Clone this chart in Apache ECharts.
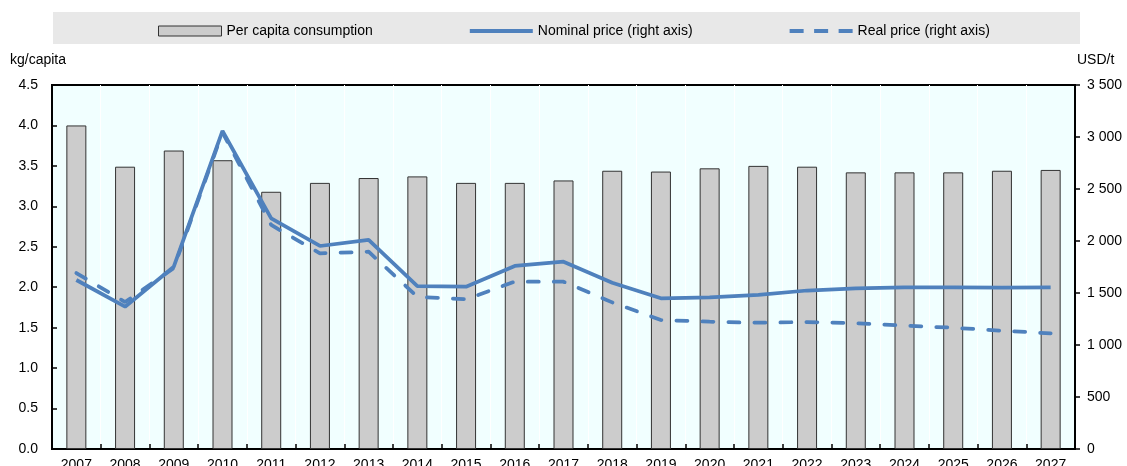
<!DOCTYPE html>
<html>
<head>
<meta charset="utf-8">
<script src="https://cdn.jsdelivr.net/npm/echarts@6/dist/echarts.min.js"></script>
<style>
html,body{margin:0;padding:0;background:#fff;}
#chart{width:1127px;height:466px;}
</style>
</head>
<body>
<div id="chart"></div>
<script>
const years = ['2007','2008','2009','2010','2011','2012','2013','2014','2015','2016','2017','2018','2019','2020','2021','2022','2023','2024','2025','2026','2027'];
const consumption = [4.00,3.49,3.69,3.57,3.18,3.29,3.35,3.37,3.29,3.29,3.32,3.44,3.43,3.47,3.50,3.49,3.42,3.42,3.42,3.44,3.45];
const nominalPrice = [1625,1368,1753,3058,2218,1952,2010,1567,1561,1760,1801,1599,1449,1459,1481,1524,1545,1555,1555,1551,1555];
const realPrice = [1692,1413,1740,3045,2154,1882,1897,1464,1439,1609,1609,1410,1240,1224,1214,1221,1209,1186,1166,1137,1112];
const leftTicks = {min:0, max:4.5, interval:0.5};
const rightTicks = {min:0, max:3500, interval:500};

const FONT = "'Liberation Sans', Arial, sans-serif";
const BLUE = '#4F81BD';
const chart = echarts.init(document.getElementById('chart'), null, {renderer:'canvas'});
function fmtThousands(v){
  const s = String(Math.round(v));
  return s.replace(/\B(?=(\d{3})+(?!\d))/g, ' ');
}
chart.setOption({
  animation:false,
  textStyle:{fontFamily:FONT, color:'#000'},
  graphic:[
    {type:'rect', left:53, top:12, shape:{width:1027, height:32}, style:{fill:'#E8E8E8'}, z:-10},
    {type:'text', left:10, top:53, style:{text:'kg/capita', font:'14px '+FONT, fill:'#000'}},
    {type:'text', left:1077, top:53, style:{text:'USD/t', font:'14px '+FONT, fill:'#000'}}
  ],
  legend:{
    left:153, top:19, itemWidth:63, itemHeight:10, itemGap:97, symbolKeepAspect:true,
    textStyle:{fontFamily:FONT, fontSize:14, color:'#000'},
    data:[
      {name:'Per capita consumption', icon:'rect', itemStyle:{color:'#CCCCCC', borderColor:'#333', borderWidth:1}},
      {name:'Nominal price (right axis)', icon:'path://M0,0H63V4H0Z', itemStyle:{color:BLUE, borderWidth:0}},
      {name:'Real price (right axis)', icon:'path://M0,0H14V4H0Z M24.5,0H38.5V4H24.5Z M49,0H63V4H49Z', itemStyle:{color:BLUE, borderWidth:0}}
    ]
  },
  grid:{left:52, right:52, top:85, bottom:17, show:true, backgroundColor:'#F1FFFF', borderColor:'#000', borderWidth:2, containLabel:false, outerBoundsMode:'none'},
  xAxis:{
    type:'category', data:years, boundaryGap:true,
    axisLine:{lineStyle:{color:'#000', width:2}},
    axisTick:{show:true, inside:true, length:5, lineStyle:{color:'#000', width:1.5}},
    axisLabel:{color:'#000', fontSize:14, fontFamily:FONT, margin:9, interval:0},
    splitLine:{show:true, lineStyle:{color:'#FFFFFF', width:1}}
  },
  yAxis:[
    {type:'value', min:leftTicks.min, max:leftTicks.max, interval:leftTicks.interval, position:'left',
     axisLine:{show:true, lineStyle:{color:'#000', width:2}},
     axisTick:{show:true, inside:true, length:5, lineStyle:{color:'#000', width:1.5}},
     axisLabel:{color:'#000', fontSize:14, fontFamily:FONT, margin:14, formatter:v=>v.toFixed(1)},
     splitLine:{show:false}},
    {type:'value', min:rightTicks.min, max:rightTicks.max, interval:rightTicks.interval, position:'right',
     axisLine:{show:true, lineStyle:{color:'#000', width:2}},
     axisTick:{show:true, inside:false, length:5, lineStyle:{color:'#000', width:1.5}},
     axisLabel:{color:'#000', fontSize:14, fontFamily:FONT, margin:12, formatter:fmtThousands},
     splitLine:{show:false}}
  ],
  series:[
    {name:'Per capita consumption', type:'bar', data:consumption, yAxisIndex:0, barWidth:20,
     itemStyle:{color:'#CCCCCC', borderColor:'#333', borderWidth:1}},
    {name:'Real price (right axis)', type:'line', data:realPrice, yAxisIndex:1, symbol:'none', z:3,
     lineStyle:{color:BLUE, width:3.75, type:[11,15], cap:'round'}, itemStyle:{color:BLUE}},
    {name:'Nominal price (right axis)', type:'line', data:nominalPrice, yAxisIndex:1, symbol:'none', z:4,
     lineStyle:{color:BLUE, width:3.75}, itemStyle:{color:BLUE}}
  ]
});
</script>
</body>
</html>
